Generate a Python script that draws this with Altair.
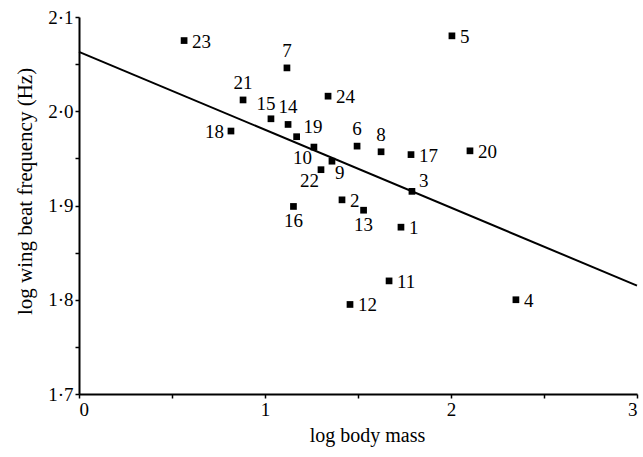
import altair as alt
import pandas as pd

ids = [str(i) for i in range(1, 25)]
log_mass = [1.731, 1.414, 1.790, 2.349, 2.005, 1.495, 1.118, 1.624, 1.360, 1.263,
            1.667, 1.457, 1.530, 1.124, 1.032, 1.153, 1.785, 0.817, 1.170, 2.102,
            0.882, 1.301, 0.565, 1.339]
log_wbf = [1.877, 1.906, 1.915, 1.800, 2.080, 1.963, 2.046, 1.957, 1.947, 1.962,
           1.820, 1.795, 1.895, 1.986, 1.992, 1.899, 1.954, 1.979, 1.973, 1.958,
           2.012, 1.938, 2.075, 2.016]
label_pos = ["r", "r", "ar", "r", "r", "a", "a", "a", "br", "bl",
             "r", "r", "b", "a", "al", "b", "r", "l", "ar", "r",
             "a", "bl", "r", "r"]

fit_x = [0.0, 3.0]
fit_y = [2.063, 1.815]

df = pd.DataFrame({"id": ids, "x": log_mass, "y": log_wbf, "pos": label_pos})
fit = pd.DataFrame({"x": fit_x, "y": fit_y})

FONT = "'Liberation Serif', 'Times New Roman', Times, serif"

xs = alt.Scale(domain=[0, 3], nice=False, zero=False)
ys = alt.Scale(domain=[1.7, 2.1], nice=False, zero=False)

x_axis = alt.Axis(values=[0, 0.5, 1, 1.5, 2, 2.5, 3], grid=False,
                  labelExpr="datum.value % 1 == 0 ? datum.value : ''",
                  title="log body mass", titleFont=FONT, titleFontSize=20,
                  titleFontWeight="normal", titleColor="black", titlePadding=6,
                  titleX=288,
                  labelFont=FONT, labelFontSize=19, labelColor="black",
                  domainColor="black", domainWidth=2, tickColor="black",
                  tickSize=4, tickWidth=1.5, labelPadding=2)
y_axis = alt.Axis(values=[1.7, 1.75, 1.8, 1.85, 1.9, 1.95, 2.0, 2.05, 2.1], grid=False,
                  labelExpr="(round(datum.value*100) % 10 == 0) ? replace(format(datum.value, '.1f'), '.', '·') : ''",
                  title="log wing beat frequency (Hz)", titleFont=FONT, titleFontSize=21,
                  titleFontWeight="normal", titleColor="black", titlePadding=12,
                  titleY=174,
                  labelFont=FONT, labelFontSize=19, labelColor="black",
                  domainColor="black", domainWidth=2, tickColor="black",
                  tickSize=4, tickWidth=1.5, labelPadding=2)

base = alt.Chart(df)

points = base.mark_point(shape="square", filled=True, color="black", size=45, opacity=1).encode(
    x=alt.X("x:Q", scale=xs, axis=x_axis),
    y=alt.Y("y:Q", scale=ys, axis=y_axis),
)

line = alt.Chart(fit).mark_line(color="black", strokeWidth=2).encode(
    x=alt.X("x:Q", scale=xs),
    y=alt.Y("y:Q", scale=ys),
)

offsets = {
    "r": dict(dx=8, dy=1, align="left", baseline="middle"),
    "l": dict(dx=-7, dy=1, align="right", baseline="middle"),
    "a": dict(dx=0, dy=-7, align="center", baseline="bottom"),
    "al": dict(dx=-5, dy=-5, align="center", baseline="bottom"),
    "ar": dict(dx=7, dy=0, align="left", baseline="bottom"),
    "b": dict(dx=0, dy=6, align="center", baseline="top"),
    "bl": dict(dx=-2, dy=2, align="right", baseline="top"),
    "br": dict(dx=3, dy=3, align="left", baseline="top"),
}

label_layers = []
for key, o in offsets.items():
    label_layers.append(
        base.transform_filter(alt.datum.pos == key).mark_text(
            font=FONT, fontSize=19, color="black", **o
        ).encode(
            x=alt.X("x:Q", scale=xs),
            y=alt.Y("y:Q", scale=ys),
            text="id:N",
        )
    )

chart = alt.layer(line, points, *label_layers).properties(
    width=558, height=377,
    padding={"left": 79, "top": 17, "right": 6, "bottom": 63},
    autosize=alt.AutoSizeParams(type="none"),
    background="white",
).configure_view(stroke=None)

chart.save("out.html", embed_options={"renderer": "svg", "actions": False})
